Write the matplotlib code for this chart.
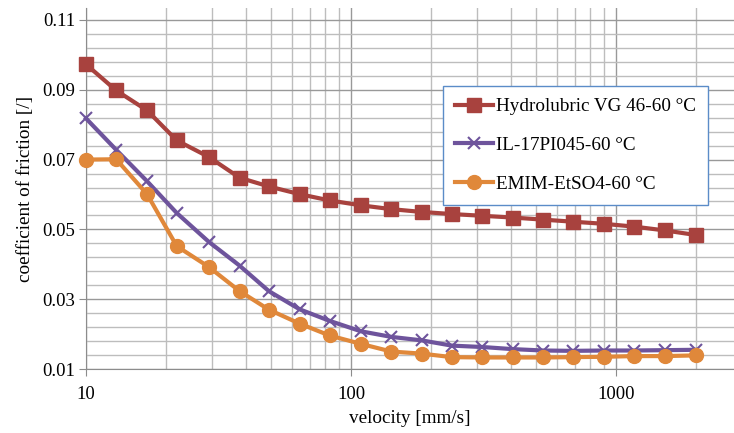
import matplotlib
matplotlib.use("Agg")
import matplotlib.pyplot as plt
from matplotlib.ticker import FixedLocator, NullFormatter, FixedFormatter

velocity = [10, 13, 17, 22, 29, 38, 49, 64, 83, 109, 142, 185, 240, 313, 407, 530, 690, 900, 1170, 1530, 2000]
hydrolubric = [0.0973, 0.0898, 0.0841, 0.0755, 0.0708, 0.0648, 0.0623, 0.0601, 0.0583, 0.0569, 0.0558, 0.0550, 0.0544, 0.0539, 0.0534, 0.0528, 0.0522, 0.0516, 0.0508, 0.0497, 0.0484]
il17 = [0.0818, 0.0728, 0.0638, 0.0547, 0.0465, 0.0396, 0.0323, 0.0271, 0.0238, 0.0208, 0.0192, 0.0182, 0.0167, 0.0163, 0.0157, 0.0153, 0.0152, 0.0153, 0.0153, 0.0154, 0.0155]
emim = [0.0700, 0.0701, 0.0601, 0.0452, 0.0393, 0.0323, 0.0270, 0.0230, 0.0196, 0.0172, 0.0150, 0.0144, 0.0134, 0.0133, 0.0133, 0.0133, 0.0134, 0.0135, 0.0137, 0.0137, 0.0139]
series_labels = ["Hydrolubric VG 46-60 \u00b0C", "IL-17PI045-60 \u00b0C", "EMIM-EtSO4-60 \u00b0C"]
y_major = [0.01, 0.03, 0.05, 0.07, 0.09, 0.11]
y_major_labels = ["0.01", "0.03", "0.05", "0.07", "0.09", "0.11"]
x_major = [10, 100, 1000]
x_major_labels = ["10", "100", "1000"]

plt.rcParams['font.family'] = ['Liberation Serif', 'DejaVu Serif']

fig = plt.figure(figsize=(7.34, 4.33), dpi=100)
W, H = 734, 433
left, right, top, bottom = 86, 734, 8, 369
ax = fig.add_axes([left / W, 1 - bottom / H, (right - left) / W, (bottom - top) / H])

ax.set_xscale('log')
ax.set_xlim(10, 10 ** (1 + (right - left) / 265.0))
ax.set_ylim(0.01, 0.11 + 12 / 3490.0)

# grid
minor_y = [0.01 + 0.004 * i for i in range(26) if i % 5 != 0]
ax.yaxis.set_major_locator(FixedLocator(y_major))
ax.yaxis.set_major_formatter(FixedFormatter(y_major_labels))
ax.yaxis.set_minor_locator(FixedLocator(minor_y))
ax.xaxis.set_major_locator(FixedLocator(x_major))
ax.xaxis.set_major_formatter(FixedFormatter(x_major_labels))
minor_x = [m * 10 ** e for e in (1, 2, 3) for m in range(2, 10)]
ax.xaxis.set_minor_locator(FixedLocator(minor_x))
ax.xaxis.set_minor_formatter(NullFormatter())

ax.grid(True, which='major', color='#999999', linewidth=1.0)
ax.grid(True, which='minor', color='#BDBDBD', linewidth=1.0)
ax.set_axisbelow(True)

for s in ['top', 'right']:
    ax.spines[s].set_visible(False)
ax.spines['left'].set_color('#8C8C8C')
ax.spines['bottom'].set_color('#8C8C8C')
ax.tick_params(which='major', length=5, color='#8C8C8C', labelsize=13.5, pad=3)
ax.tick_params(which='minor', length=0)
ax.tick_params(axis='x', pad=7)

red = '#A8423E'
purple = '#6E549C'
orange = '#E0883A'
ax.plot(velocity, hydrolubric, color=red, lw=3, marker='s', ms=10, label=series_labels[0], clip_on=False, zorder=3)
ax.plot(velocity, il17, color=purple, lw=3, marker='x', ms=8, mew=1.5, label=series_labels[1], clip_on=False, zorder=3)
ax.plot(velocity, emim, color=orange, lw=3, marker='o', ms=10, label=series_labels[2], clip_on=False, zorder=4)

leg = ax.legend(loc='upper left', bbox_to_anchor=((443 - left) / (right - left), 1 - (86 - top) / (bottom - top)),
                frameon=True, fancybox=False, fontsize=13.8, handlelength=2.0, labelspacing=1.12,
                borderpad=0.62, handletextpad=0.15, borderaxespad=0)
leg.get_frame().set_edgecolor('#5B8CC8')
leg.get_frame().set_linewidth(1.0)
leg.get_frame().set_facecolor('white')
leg.get_frame().set_alpha(1)

ax.set_xlabel('velocity [mm/s]', fontsize=13.8, labelpad=5)
ax.set_ylabel('coefficient of friction [/]', fontsize=13.8, labelpad=6)

fig.savefig('out.png', dpi=100)
